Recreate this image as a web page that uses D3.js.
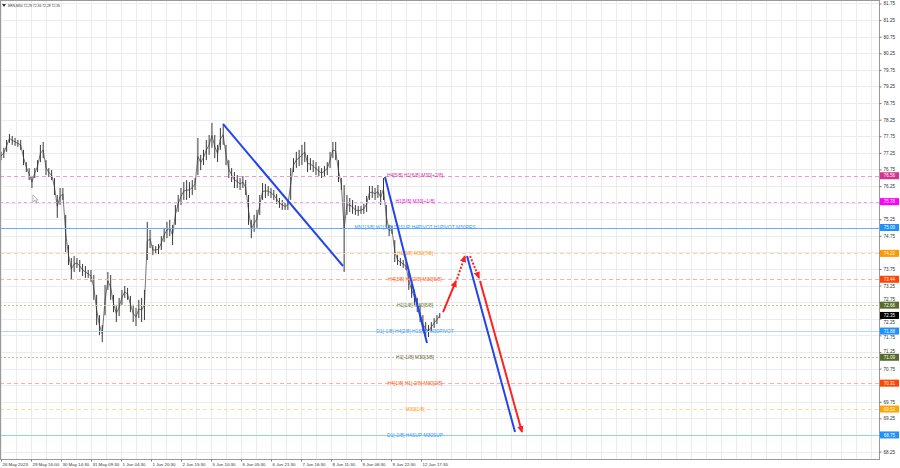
<!DOCTYPE html>
<html><head><meta charset="utf-8">
<script src="https://cdn.jsdelivr.net/npm/d3@7"></script>
<style>html,body{margin:0;padding:0;background:#fff;overflow:hidden}svg{display:block;font-family:"Liberation Sans",Arial,sans-serif}</style>
</head><body><svg id="c" width="900" height="468"></svg>
<script>
// ---------- DATA ----------
const title = "BRN,M30 72.29 72.36 72.28 72.35";
const timeLabels = ["26 May 2023","29 May 16:00","30 May 14:30","31 May 09:30","1 Jun 04:30","1 Jun 20:30","2 Jun 15:30","5 Jun 10:30","6 Jun 05:30","6 Jun 21:30","7 Jun 16:30","8 Jun 11:30","9 Jun 06:30","9 Jun 22:30","12 Jun 17:30"];
const barsPerLabel = 32;
const barsPerSample = 3;
const priceTicks = [68.25,68.75,69.25,69.75,70.25,70.75,71.25,71.75,72.25,72.75,73.25,73.75,74.25,74.75,75.25,75.75,76.25,76.75,77.25,77.75,78.25,78.75,79.25,79.75,80.25,80.75,81.25,81.75];
const highs = [77.28,77.40,77.64,77.82,77.76,77.70,77.64,77.64,77.34,76.97,76.79,76.55,76.79,77.03,77.49,77.58,77.03,76.79,76.73,76.49,
75.98,76.19,76.19,75.38,74.47,74.08,74.14,74.08,74.02,73.90,73.84,73.72,73.72,73.57,72.97,72.36,72.06,73.27,73.66,73.57,
72.97,72.67,72.88,73.12,73.24,73.18,72.94,72.67,72.58,72.82,72.88,73.12,75.17,74.93,74.47,74.44,74.50,74.74,74.99,75.17,
75.23,75.08,75.68,75.98,76.19,76.37,76.43,76.37,76.43,76.49,77.70,77.19,77.34,77.64,77.79,78.15,77.79,77.49,78.00,78.09,
77.49,77.03,76.79,76.67,76.58,76.49,76.55,76.43,75.98,75.23,75.38,75.53,75.98,76.34,76.31,76.25,76.19,76.13,76.01,75.89,
75.83,75.74,75.83,76.79,77.09,77.28,77.34,77.49,77.58,77.19,77.09,77.03,76.97,76.85,76.79,76.85,76.97,77.28,77.58,77.58,
77.03,76.49,76.28,75.98,75.89,75.83,75.68,75.65,75.65,75.71,75.95,76.25,76.25,76.19,76.28,76.13,76.49,75.68,75.08,75.05,
74.62,74.17,74.08,74.02,73.96,73.66,73.36,73.12,72.88,72.67,72.36,72.15,72.06,72.15,72.27,72.36,72.42];
const lows = [77.03,77.09,77.28,77.55,77.49,77.46,77.43,77.34,76.88,76.67,76.43,76.19,76.49,76.67,76.97,77.09,76.58,76.52,76.43,75.98,
75.29,75.68,75.83,74.26,73.87,73.42,73.66,73.78,73.66,73.54,73.48,73.48,73.36,72.82,72.06,71.76,71.55,72.36,73.12,72.82,
72.45,72.15,72.33,72.67,72.88,72.82,72.45,72.15,72.03,72.27,72.15,72.21,74.02,74.38,74.17,74.20,74.20,74.32,74.56,74.68,
74.74,74.47,75.08,75.47,75.68,75.83,75.83,75.89,75.98,76.13,76.58,76.73,76.88,77.03,77.19,77.40,77.09,76.97,77.34,77.49,
76.88,76.49,76.37,76.19,76.19,76.13,76.19,75.98,75.08,74.68,74.87,74.99,75.38,75.83,75.89,75.95,75.89,75.83,75.71,75.59,
75.53,75.53,75.53,75.83,76.67,76.79,76.85,76.88,76.97,76.67,76.73,76.67,76.58,76.55,76.49,76.55,76.58,76.79,77.09,77.03,
76.37,76.13,73.66,75.38,75.47,75.41,75.38,75.35,75.41,75.41,75.47,75.83,75.89,75.83,75.89,75.68,75.83,74.99,74.74,74.81,
73.96,73.87,73.84,73.78,73.72,73.12,72.88,72.67,72.45,72.15,71.85,71.73,71.70,71.85,71.97,72.09,72.27];
const lastPrice = 72.35;
const levelPrices = [76.56,75.78,75.00,74.22,73.44,72.66,71.88,71.09,70.31,69.53,68.75];
const levelTexts = ["H4[5/8] H1[6/8] M30[+2/8]","H1[5/8] M30[+1/8]","MN1[3/8] W1[3/8] D1SUP H4PIVOT H1PIVOT M30RES","H1[3/8] M30[7/8]","H4[3/8] H1[2/8] M30[6/8]","H1[1/8] M30[5/8]","D1[-1/8] H4[2/8] H1SUP M30PIVOT","H1[-1/8] M30[3/8]","H4[1/8] H1[-2/8] M30[2/8]","M30[1/8]","D1[-2/8] H4SUP M30SUP"];
// trend lines / forecast arrows as [bar, price] pairs
const blueTrend1 = [[236.8,78.12],[364.8,73.84]];
const blueTrend2 = [[409.6,76.52],[454.4,71.52]];
const blueTrend3 = [[497.1,74.14],[548.3,68.84]];
const redUp = [[471.5,72.45],[485.3,73.39]];
const redUpDotted = [[486.4,73.45],[494.9,74.14]];
const redDownDotted = [[500.3,74.14],[509.9,73.48]];
const redDown = [[511.0,73.39],[555.7,68.84]];

// ---------- STYLES ----------
const levelStyle = [
 {line:"#ea9acb",dash:"4,3",text:"#cc3399",box:"#d4338f"},
 {line:"#f49af4",dash:"3,3",text:"#e020e0",box:"#ff00ff"},
 {line:"#6aaef5",dash:null,text:"#3399ff",box:"#1e90ff"},
 {line:"#ffd3a8",dash:"4,3",text:"#ff9922",box:"#ff9900"},
 {line:"#ffb09c",dash:"4,3",text:"#ff5511",box:"#ff4500"},
 {line:"#c2c4a2",dash:"2,2",text:"#667733",box:"#5a6b2a"},
 {line:"#b4d6fa",dash:null,text:"#4499ee",box:"#1e90ff"},
 {line:"#c4c4a8",dash:"2,2",text:"#666633",box:"#556b2f"},
 {line:"#ffb09c",dash:"4,3",text:"#ff5511",box:"#ff4500"},
 {line:"#ffd8a8",dash:"4,3",text:"#ff9922",box:"#ffa500"},
 {line:"#98cafb",dash:null,text:"#3399ff",box:"#1e90ff"}
];

// ---------- CHART ----------
const W = 900, H = 468, plotR = 879, plotB = 459;
const svg = d3.select("#c");
const x = d3.scaleLinear().domain([0, barsPerLabel*(timeLabels.length-1)]).range([1, 421]);
const y = d3.scaleLinear().domain([68.025, 81.855]).range([plotB, 0]);

svg.append("rect").attr("width",W).attr("height",H).attr("fill","#fff");

// grid
const g = svg.append("g");
const maxBar = x.invert(plotR);
g.selectAll(".vg").data(d3.range(0, maxBar, barsPerLabel/2)).join("line")
  .attr("x1",d=>Math.round(x(d))+0.5).attr("x2",d=>Math.round(x(d))+0.5)
  .attr("y1",0).attr("y2",plotB).attr("stroke","#ececec").attr("stroke-width",1);
g.selectAll(".hg").data(priceTicks).join("line")
  .attr("x1",0).attr("x2",plotR).attr("y1",d=>Math.round(y(d))+0.5).attr("y2",d=>Math.round(y(d))+0.5)
  .attr("stroke","#ececec").attr("stroke-width",1);

// levels
const lv = svg.append("g");
levelPrices.forEach((p,i)=>{
  const st = levelStyle[i];
  lv.append("line").attr("x1",0).attr("x2",plotR)
    .attr("y1",Math.round(y(p))+0.5).attr("y2",Math.round(y(p))+0.5)
    .attr("stroke",st.line).attr("stroke-width",1)
    .attr("stroke-dasharray",st.dash);
});

// price bars
const pr = svg.append("g");
const sx = i => x(i*barsPerSample);
pr.append("path")
  .attr("d", d3.line().x((d,i)=>sx(i)).y((d,i)=>y((highs[i]+lows[i])/2))(highs))
  .attr("fill","none").attr("stroke","#666").attr("stroke-width",0.9);
pr.selectAll("line").data(highs).join("line")
  .attr("x1",(d,i)=>sx(i)).attr("x2",(d,i)=>sx(i))
  .attr("y1",d=>y(d)).attr("y2",(d,i)=>y(lows[i]))
  .attr("stroke","#3a3a3a").attr("stroke-width",1);

// level texts (drawn over the bars as in the terminal)
levelPrices.forEach((p,i)=>{
  lv.append("text").attr("x",x(441.6)).attr("y",y(p)).attr("dy","0.35em")
    .attr("text-anchor","middle").attr("font-size",4.9).attr("fill",levelStyle[i].text)
    .text(levelTexts[i]);
});
svg.node().appendChild(lv.node());

// markers
const defs = svg.append("defs");
defs.append("marker").attr("id","ar").attr("markerUnits","userSpaceOnUse")
  .attr("markerWidth",8).attr("markerHeight",8).attr("refX",6).attr("refY",4)
  .attr("orient","auto")
  .append("path").attr("d","M0,0.8 L7,4 L0,7.2 Z").attr("fill","#ff2020");
const tl = svg.append("g");
function seg(pts,color,w,dash,arrow){
  const l = tl.append("line")
    .attr("x1",x(pts[0][0])).attr("y1",y(pts[0][1]))
    .attr("x2",x(pts[1][0])).attr("y2",y(pts[1][1]))
    .attr("stroke",color).attr("stroke-width",w);
  if(dash) l.attr("stroke-dasharray",dash);
  if(arrow) l.attr("marker-end","url(#ar)");
}
seg(blueTrend1,"#2244ee",2,null,false);
seg(blueTrend2,"#2244ee",2,null,false);
seg(blueTrend3,"#2244ee",2,null,false);
seg(redUp,"#ff2020",2,null,true);
seg(redUpDotted,"#ff2020",2,"2,1.6",true);
seg(redDownDotted,"#ff2020",2,"2,1.6",true);
seg(redDown,"#ff2020",2,null,true);

// frame & axes
svg.append("rect").attr("x",0.5).attr("y",0.5).attr("width",plotR).attr("height",plotB)
  .attr("fill","none").attr("stroke","#9a9a9a").attr("stroke-width",1);

const boxPrices = levelPrices.concat([lastPrice]);
const ya = svg.append("g").attr("transform",`translate(${plotR+0.5},0)`)
  .call(d3.axisRight(y).tickValues(priceTicks).tickSize(2).tickPadding(2).tickFormat(d3.format(".2f")));
ya.select(".domain").remove();
ya.selectAll("line").attr("stroke","#777");
ya.selectAll("text").attr("font-size",4.6).attr("fill","#333").attr("font-family","Liberation Sans, Arial, sans-serif")
  .each(function(t){
    // tick labels hidden or pushed aside by the price boxes, as in the terminal
    let shift = 0, hide = false;
    boxPrices.forEach(p=>{
      const d = y(t) - y(p);
      if (Math.abs(d) < 2.6) hide = true;
      else if (Math.abs(d) < 6.2) shift += Math.sign(d)*(6.2-Math.abs(d));
    });
    if (hide) d3.select(this).remove();
    else d3.select(this).attr("dy", (0.32 + shift/4.6) + "em");
  });

const xa = svg.append("g").attr("transform",`translate(0,${plotB+0.5})`)
  .call(d3.axisBottom(x).tickValues(timeLabels.map((d,i)=>i*barsPerLabel)).tickSize(2).tickPadding(1)
    .tickFormat((d,i)=>timeLabels[i]));
xa.select(".domain").remove();
xa.selectAll("line").attr("stroke","#777");
xa.selectAll("text").attr("font-size",4.4).attr("fill","#333").attr("text-anchor","start").attr("dx","1")
  .attr("font-family","Liberation Sans, Arial, sans-serif");

// level boxes on right
const bx = svg.append("g");
levelPrices.forEach((p,i)=>{
  bx.append("rect").attr("x",plotR+1).attr("y",y(p)-3.5).attr("width",19).attr("height",7).attr("fill",levelStyle[i].box);
  bx.append("text").attr("x",plotR+10.5).attr("y",y(p)).attr("dy","0.35em").attr("text-anchor","middle")
    .attr("font-size",4.5).attr("fill","#fff").text(d3.format(".2f")(p));
});
bx.append("rect").attr("x",plotR+1).attr("y",y(lastPrice)-3.5).attr("width",19).attr("height",7).attr("fill","#000");
bx.append("text").attr("x",plotR+10.5).attr("y",y(lastPrice)).attr("dy","0.35em").attr("text-anchor","middle")
  .attr("font-size",4.5).attr("fill","#fff").text(d3.format(".2f")(lastPrice));

// title
svg.append("path").attr("d","M2,4 L6,4 L4,7 Z").attr("fill","#333");
svg.append("text").attr("x",8).attr("y",6).attr("dy","0.35em").attr("font-size",4.2).attr("fill","#333")
  .attr("textLength",52).attr("lengthAdjust","spacingAndGlyphs").text(title);

// mouse cursor
svg.append("path").attr("transform",`translate(${x(34)},${y(75.98)})`)
  .attr("d","M0,0 L0,7 L1.8,5.4 L3.2,8.2 L4.2,7.7 L2.9,5 L5.2,5 Z")
  .attr("fill","#fff").attr("stroke","#888").attr("stroke-width",0.6);
</script></body></html>
